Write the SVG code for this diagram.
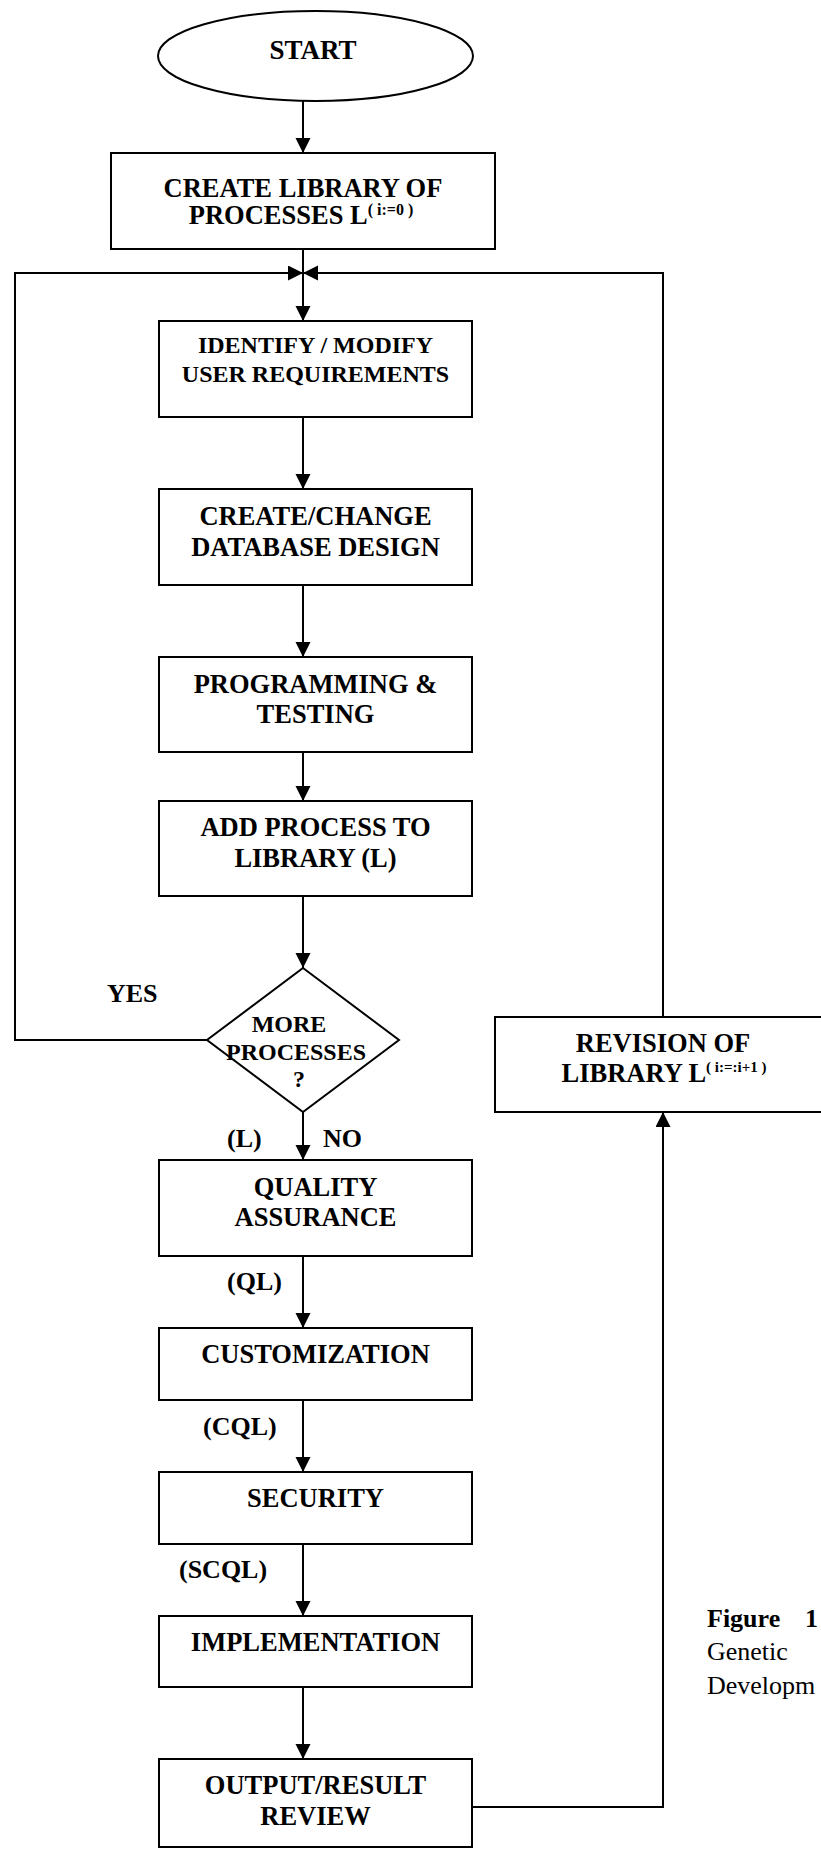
<svg xmlns="http://www.w3.org/2000/svg" width="821" height="1849" viewBox="0 0 821 1849">
<defs>
<marker id="ah" markerUnits="userSpaceOnUse" markerWidth="16" markerHeight="16" refX="15" refY="7.5" orient="auto">
<path d="M0,0 L15,7.5 L0,15 z" fill="#000"/>
</marker>
<style>
.b{fill:#fff;stroke:#000;stroke-width:2}
.t{font-family:"Liberation Serif","Times New Roman",serif;font-weight:bold;font-size:26.5px;fill:#000;text-anchor:middle}
.s{font-size:24px}
.l{font-family:"Liberation Serif","Times New Roman",serif;font-weight:bold;font-size:26px;fill:#000}
.sup{font-size:16px}
.c{fill:none;stroke:#000;stroke-width:2}
.cap{font-family:"Liberation Serif","Times New Roman",serif;font-size:26px;fill:#000}
</style>
</defs>
<rect width="821" height="1849" fill="#fff"/>
<g id="connectors">
<line class="c" x1="303" y1="101" x2="303" y2="153" marker-end="url(#ah)"/>
<line class="c" x1="303" y1="249" x2="303" y2="321" marker-end="url(#ah)"/>
<polyline class="c" points="207,1040 15,1040 15,273 303,273" marker-end="url(#ah)"/>
<polyline class="c" points="663,1017 663,273 303,273" marker-end="url(#ah)"/>
<line class="c" x1="303" y1="417" x2="303" y2="489" marker-end="url(#ah)"/>
<line class="c" x1="303" y1="585" x2="303" y2="657" marker-end="url(#ah)"/>
<line class="c" x1="303" y1="752" x2="303" y2="801" marker-end="url(#ah)"/>
<line class="c" x1="303" y1="896" x2="303" y2="968" marker-end="url(#ah)"/>
<line class="c" x1="303" y1="1112" x2="303" y2="1160" marker-end="url(#ah)"/>
<line class="c" x1="303" y1="1256" x2="303" y2="1328" marker-end="url(#ah)"/>
<line class="c" x1="303" y1="1400" x2="303" y2="1472" marker-end="url(#ah)"/>
<line class="c" x1="303" y1="1544" x2="303" y2="1616" marker-end="url(#ah)"/>
<line class="c" x1="303" y1="1687" x2="303" y2="1759" marker-end="url(#ah)"/>
<polyline class="c" points="472,1807 663,1807 663,1112" marker-end="url(#ah)"/>
<text class="l" x="107" y="1002">YES</text>
<text class="l" x="227" y="1147">(L)</text>
<text class="l" x="323" y="1147">NO</text>
<text class="l" x="227" y="1290">(QL)</text>
<text class="l" x="203" y="1435">(CQL)</text>
<text class="l" x="179" y="1578">(SCQL)</text>
</g>
<g id="start">
<ellipse class="b" cx="315.5" cy="56" rx="157.5" ry="45"/>
<text class="t" x="313" y="59" style="font-size:27px">START</text>
</g>
<g id="create-library">
<rect class="b" x="111" y="153" width="384" height="96"/>
<text class="t" x="303" y="197">CREATE LIBRARY OF</text>
<text class="t" x="301" y="224">PROCESSES L<tspan class="sup" dy="-9">( i:=0 )</tspan></text>
</g>
<g id="identify">
<rect class="b" x="159" y="321" width="313" height="96"/>
<text class="t s" x="315.5" y="353">IDENTIFY / MODIFY</text>
<text class="t s" x="315.5" y="382">USER REQUIREMENTS</text>
</g>
<g id="database">
<rect class="b" x="159" y="489" width="313" height="96"/>
<text class="t" x="315.5" y="525">CREATE/CHANGE</text>
<text class="t" x="315.5" y="556">DATABASE DESIGN</text>
</g>
<g id="programming">
<rect class="b" x="159" y="657" width="313" height="95"/>
<text class="t" x="315.5" y="693">PROGRAMMING &amp;</text>
<text class="t" x="315.5" y="723">TESTING</text>
</g>
<g id="add-process">
<rect class="b" x="159" y="801" width="313" height="95"/>
<text class="t" x="315.5" y="836">ADD PROCESS TO</text>
<text class="t" x="315.5" y="867">LIBRARY (L)</text>
</g>
<g id="decision">
<polygon class="b" points="303,968 399,1040 303,1112 207,1040"/>
<text class="t s" x="289" y="1032">MORE</text>
<text class="t s" x="296" y="1060">PROCESSES</text>
<text class="t s" x="299" y="1087">?</text>
</g>
<g id="revision">
<rect class="b" x="495" y="1017" width="340" height="95"/>
<text class="t" x="663" y="1052">REVISION OF</text>
<text class="t" x="664" y="1082">LIBRARY L<tspan class="sup" style="font-size:15px" dy="-10">( i:=:i+1 )</tspan></text>
</g>
<g id="quality">
<rect class="b" x="159" y="1160" width="313" height="96"/>
<text class="t" x="315.5" y="1196">QUALITY</text>
<text class="t" x="315.5" y="1226">ASSURANCE</text>
</g>
<g id="customization">
<rect class="b" x="159" y="1328" width="313" height="72"/>
<text class="t" x="315.5" y="1363">CUSTOMIZATION</text>
</g>
<g id="security">
<rect class="b" x="159" y="1472" width="313" height="72"/>
<text class="t" x="315.5" y="1507">SECURITY</text>
</g>
<g id="implementation">
<rect class="b" x="159" y="1616" width="313" height="71"/>
<text class="t" x="315.5" y="1651">IMPLEMENTATION</text>
</g>
<g id="output">
<rect class="b" x="159" y="1759" width="313" height="88"/>
<text class="t" x="315.5" y="1794">OUTPUT/RESULT</text>
<text class="t" x="315.5" y="1825">REVIEW</text>
</g>
<g id="caption">
<text class="cap" x="707" y="1627" font-weight="bold">Figure</text>
<text class="cap" x="805" y="1627" font-weight="bold">1</text>
<text class="cap" x="707" y="1660">Genetic</text>
<text class="cap" x="707" y="1694">Developm</text>
</g>
</svg>
